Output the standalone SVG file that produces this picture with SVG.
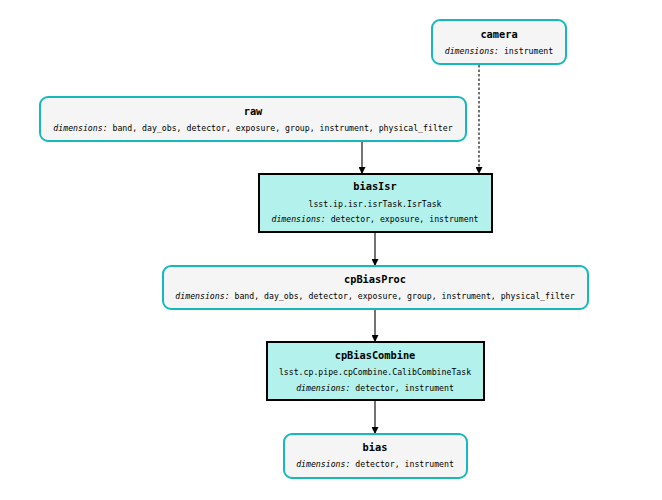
<svg xmlns="http://www.w3.org/2000/svg" width="662" height="500" viewBox="0 0 662 500">
<defs>
<style>
.ds{fill:#f5f5f5;stroke:#17b8bb;stroke-width:2}
.tk{fill:#b3f1ec;stroke:#000;stroke-width:2}
text{font-family:"DejaVu Sans Mono",monospace;text-anchor:middle;fill:#000}
.t{font-size:10.3px;font-weight:bold}
.s{font-size:8.2px}
.i{font-style:italic}
.e{stroke:#000;stroke-width:1.1;fill:none;marker-end:url(#a)}
</style>
<marker id="a" viewBox="0 0 10 10" refX="10" refY="5" markerWidth="8" markerHeight="7" markerUnits="userSpaceOnUse" orient="auto">
<path d="M0,0L10,5L0,10z" fill="#000"/>
</marker>
</defs>
<rect width="662" height="500" fill="#fff"/>
<g id="connectors">
<path class="e" d="M479,65V174" stroke-dasharray="2.5,2"/>
<path class="e" d="M362,142V174"/>
<path class="e" d="M375,233V266"/>
<path class="e" d="M375,310V342"/>
<path class="e" d="M375,401V434"/>
</g>
<g id="camera">
<rect class="ds" x="432" y="20" width="134" height="44" rx="8"/>
<text class="t" x="499" y="38">camera</text>
<text class="s" x="499" y="54"><tspan class="i">dimensions:</tspan> instrument</text>
</g>
<g id="raw">
<rect class="ds" x="40" y="97" width="426" height="44" rx="8"/>
<text class="t" x="253" y="115">raw</text>
<text class="s" x="253" y="131"><tspan class="i">dimensions:</tspan> band, day_obs, detector, exposure, group, instrument, physical_filter</text>
</g>
<g id="biasIsr">
<rect class="tk" x="259" y="174" width="233" height="58"/>
<text class="t" x="375" y="190">biasIsr</text>
<text class="s" x="375" y="207">lsst.ip.isr.isrTask.IsrTask</text>
<text class="s" x="375" y="222"><tspan class="i">dimensions:</tspan> detector, exposure, instrument</text>
</g>
<g id="cpBiasProc">
<rect class="ds" x="163" y="266" width="425" height="43" rx="8"/>
<text class="t" x="375" y="283">cpBiasProc</text>
<text class="s" x="375" y="299"><tspan class="i">dimensions:</tspan> band, day_obs, detector, exposure, group, instrument, physical_filter</text>
</g>
<g id="cpBiasCombine">
<rect class="tk" x="267" y="342" width="217" height="58"/>
<text class="t" x="375" y="359">cpBiasCombine</text>
<text class="s" x="375" y="375">lsst.cp.pipe.cpCombine.CalibCombineTask</text>
<text class="s" x="375" y="391"><tspan class="i">dimensions:</tspan> detector, instrument</text>
</g>
<g id="bias">
<rect class="ds" x="284" y="434" width="183" height="44" rx="8"/>
<text class="t" x="375" y="451">bias</text>
<text class="s" x="375" y="467"><tspan class="i">dimensions:</tspan> detector, instrument</text>
</g>
</svg>
